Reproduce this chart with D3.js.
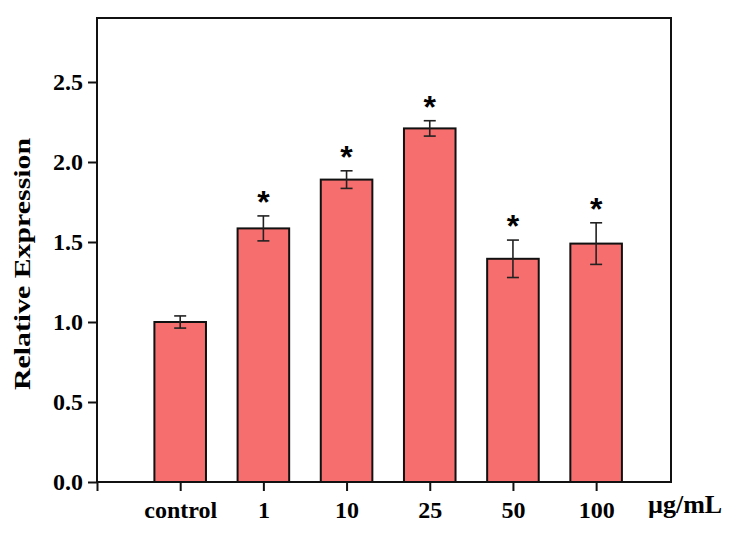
<!DOCTYPE html>
<html>
<head>
<meta charset="utf-8">
<script src="https://cdnjs.cloudflare.com/ajax/libs/d3/7.8.5/d3.min.js"></script>
<style>
  body { margin: 0; background: #fff; }
  text { font-family: "Liberation Serif", "Times New Roman", serif; font-weight: bold; }
</style>
</head>
<body>
<div id="chart"></div>
<script>
const groups = ["control", "1", "10", "25", "50", "100"];
const means = [1.00, 1.585, 1.89, 2.21, 1.395, 1.49];
const errors = [0.038, 0.078, 0.055, 0.048, 0.117, 0.13];
const marked = [false, true, true, true, true, true];
const yTicks = [0, 0.5, 1.0, 1.5, 2.0, 2.5];

function init() {
    const width = 740;
    const height = 539;
    const margin = { left: 97, right: 69, top: 18, bottom: 57 };

    const svg = d3.select("#chart")
        .append("svg")
        .attr("width", width)
        .attr("height", height);

    // categories sit at 1..6 on a linear axis that starts at 0
    const x = d3.scaleLinear()
        .domain([0, 6.9])
        .range([margin.left, width - margin.right]);

    const y = d3.scaleLinear()
        .domain([0, 2.9])
        .range([height - margin.bottom, margin.top]);

    const barW = x(0.62) - x(0);
    const rows = means.map((d, i) => ({ name: groups[i], pos: i + 1, mean: d, err: errors[i], star: marked[i] }));

    // bars
    svg.selectAll(".bar")
        .data(rows)
        .enter()
        .append("rect")
        .attr("x", d => x(d.pos) - barW / 2)
        .attr("y", d => y(d.mean))
        .attr("width", barW)
        .attr("height", d => y(0) - y(d.mean))
        .style("fill", "#f76e6e")
        .style("stroke", "#111")
        .style("stroke-width", 2);

    // error bars
    const eb = svg.append("g").style("stroke", "#222").style("stroke-width", 1.6);
    rows.forEach(function (d) {
        const cx = x(d.pos);
        eb.append("line").attr("x1", cx).attr("x2", cx)
            .attr("y1", y(d.mean + d.err)).attr("y2", y(d.mean - d.err));
        eb.append("line").attr("x1", cx - 6).attr("x2", cx + 6)
            .attr("y1", y(d.mean + d.err)).attr("y2", y(d.mean + d.err));
        eb.append("line").attr("x1", cx - 6).attr("x2", cx + 6)
            .attr("y1", y(d.mean - d.err)).attr("y2", y(d.mean - d.err));
    });

    // significance stars
    svg.selectAll(".star")
        .data(rows.filter(d => d.star))
        .enter()
        .append("text")
        .attr("x", d => x(d.pos))
        .attr("y", d => y(d.mean + d.err) - 3)
        .attr("text-anchor", "middle")
        .style("font-family", "'Liberation Sans', Arial, sans-serif")
        .style("font-size", "32px")
        .text("*");

    // frame
    svg.append("rect")
        .attr("x", x(0))
        .attr("y", y(2.9))
        .attr("width", x(6.9) - x(0))
        .attr("height", y(0) - y(2.9))
        .style("fill", "none")
        .style("stroke", "#111")
        .style("stroke-width", 2);

    // y axis
    const yAxis = svg.append("g")
        .attr("transform", `translate(${x(0)},0)`)
        .call(d3.axisLeft(y).tickValues(yTicks).tickFormat(d3.format(".1f")).tickSize(9).tickPadding(5));
    yAxis.select(".domain").remove();
    yAxis.selectAll("line").style("stroke", "#111").style("stroke-width", 2);
    yAxis.selectAll("text").style("font-size", "24px").style("fill", "#000")
        .style("font-family", "'Liberation Serif', serif").style("font-weight", "bold");

    // x axis
    const xAxis = svg.append("g")
        .attr("transform", `translate(0,${y(0)})`)
        .call(d3.axisBottom(x).tickValues([0, 1, 2, 3, 4, 5, 6])
            .tickFormat(d => d === 0 ? "" : groups[d - 1]).tickSize(9).tickPadding(10));
    xAxis.select(".domain").remove();
    xAxis.selectAll("line").style("stroke", "#111").style("stroke-width", 2);
    xAxis.selectAll("text").style("font-size", "24px").style("fill", "#000")
        .style("font-family", "'Liberation Serif', serif").style("font-weight", "bold");

    // unit label
    svg.append("text")
        .attr("x", 648)
        .attr("y", 513)
        .attr("text-anchor", "start")
        .style("font-size", "26px")
        .text("µg/mL");

    // y title
    svg.append("text")
        .attr("transform", "translate(30,264) rotate(-90)")
        .attr("text-anchor", "middle")
        .attr("textLength", 252)
        .attr("lengthAdjust", "spacingAndGlyphs")
        .style("font-size", "24px")
        .text("Relative Expression");
}

window.onload = init;
</script>
</body>
</html>
